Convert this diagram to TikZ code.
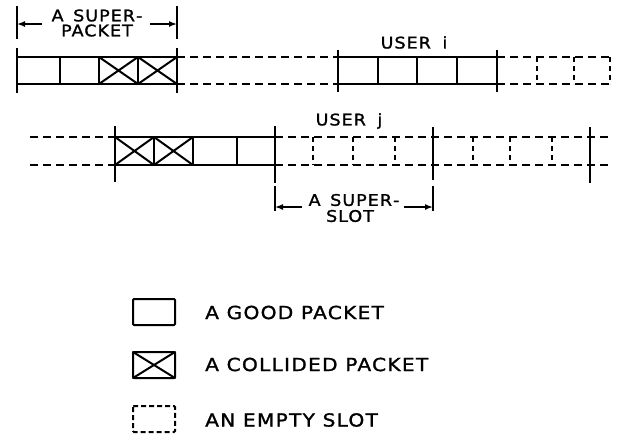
\documentclass[tikz,border=0pt]{standalone}
\usepackage{fontspec}
\setmainfont{DejaVu Sans}
\newfontfamily\upfont[FakeStretch=1.1,LetterSpace=6,FakeBold=1.3]{DejaVu Sans}
\newfontfamily\legfont[FakeStretch=1.12,LetterSpace=7,FakeBold=1.3]{DejaVu Sans}
\usetikzlibrary{arrows.meta}
\tikzset{
 solidln/.style={line width=2pt, line cap=round},
 dashln/.style={line width=1.9pt, dash pattern=on 8pt off 5pt},
 slotln/.style={line width=1.7pt, dash pattern=on 5pt off 4pt},
 tickln/.style={line width=1.5pt},
 dimarrow/.style={line width=1.5pt, -{Latex[length=8pt,width=6pt]}},
 uplab/.style={inner sep=0pt, font=\upfont\fontsize{16}{18}\selectfont},
 leglab/.style={inner sep=0pt, anchor=west, font=\legfont\fontsize{18}{20}\selectfont},
 legbox/.style={line width=2pt, rounded corners=1pt},
}
\begin{document}
\begin{tikzpicture}[x=1pt,y=-1pt]
\useasboundingbox (0,0) rectangle (624,437);
% ---------- row 1 ----------
\draw[solidln] (17,57) -- (177,57) (17,84) -- (177,84);
\foreach \x in {60,99,138} \draw[solidln] (\x,57) -- (\x,84);
\foreach \a/\b in {99/138,138/177} \draw[solidln] (\a,57) -- (\b,84) (\a,84) -- (\b,57);
\draw[tickln] (17,48) -- (17,93) (177,48) -- (177,93);
\draw[dashln] (177,57) -- (338,57) (177,84) -- (338,84);
\draw[solidln] (338,57) -- (497,57) (338,84) -- (497,84);
\foreach \x in {378,417,457} \draw[solidln] (\x,57) -- (\x,84);
\draw[tickln] (338,50) -- (338,92) (497,50) -- (497,92);
\draw[dashln] (497,57) -- (612,57) (497,84) -- (612,84);
\foreach \x in {537,574,610} \draw[slotln] (\x,57) -- (\x,84);
% super-packet dimension
\draw[tickln] (17,6) -- (17,39) (177,6) -- (177,39);
\node[uplab] (sp1) at (97,15.5) {A\hspace{3pt} SUPER\hspace{1pt}-};
\node[uplab] (sp2) at (97,30.5) {PACKET};
\coordinate (spl) at (17,24);
\coordinate (spr) at (177,24);
\draw[dimarrow] (42,24) -- (spl);
\draw[dimarrow] (150,24) -- (spr);
\node[uplab] (ui) at (414,42.5) {USER\hspace{5pt} i};
% ---------- row 2 ----------
\draw[dashln] (30,137) -- (115,137) (30,165) -- (115,165);
\draw[solidln] (115,137) -- (275,137) (115,165) -- (275,165);
\foreach \x in {154,193,237} \draw[solidln] (\x,137) -- (\x,165);
\foreach \a/\b in {115/154,154/193} \draw[solidln] (\a,137) -- (\b,165) (\a,165) -- (\b,137);
\draw[tickln] (115,126) -- (115,182) (275,126) -- (275,183);
\draw[dashln] (275,137) -- (612,137) (275,165) -- (612,165);
\foreach \x in {313,353,395,473,510,552} \draw[slotln] (\x,137) -- (\x,165);
\draw[tickln] (433,127) -- (433,180) (590,127) -- (590,183);
\node[uplab] (uj) at (349,121) {USER\hspace{5pt} j};
% super-slot dimension
\draw[tickln] (275,186) -- (275,211) (433,186) -- (433,211);
\node[uplab] (ss1) at (354,200) {A\hspace{3pt} SUPER\hspace{1pt}-};
\node[uplab] (ss2) at (350,216) {SLOT};
\coordinate (ssl) at (275,207);
\coordinate (ssr) at (433,207);
\draw[dimarrow] (302,207) -- (ssl);
\draw[dimarrow] (404,207) -- (ssr);
% ---------- legend ----------
\draw[legbox] (133,299) rectangle (175,325);
\node[leglab] (lg1) at (205,312.5) {A GOOD PACKET};
\draw[legbox] (133,352) rectangle (175,378);
\draw[solidln] (133,352) -- (175,378) (133,378) -- (175,352);
\node[leglab] (lg2) at (205,364.5) {A COLLIDED PACKET};
\draw[legbox, dash pattern=on 5pt off 3pt] (133,406) rectangle (175,432);
\node[leglab] (lg3) at (205,420) {AN EMPTY SLOT};
\end{tikzpicture}
\end{document}
